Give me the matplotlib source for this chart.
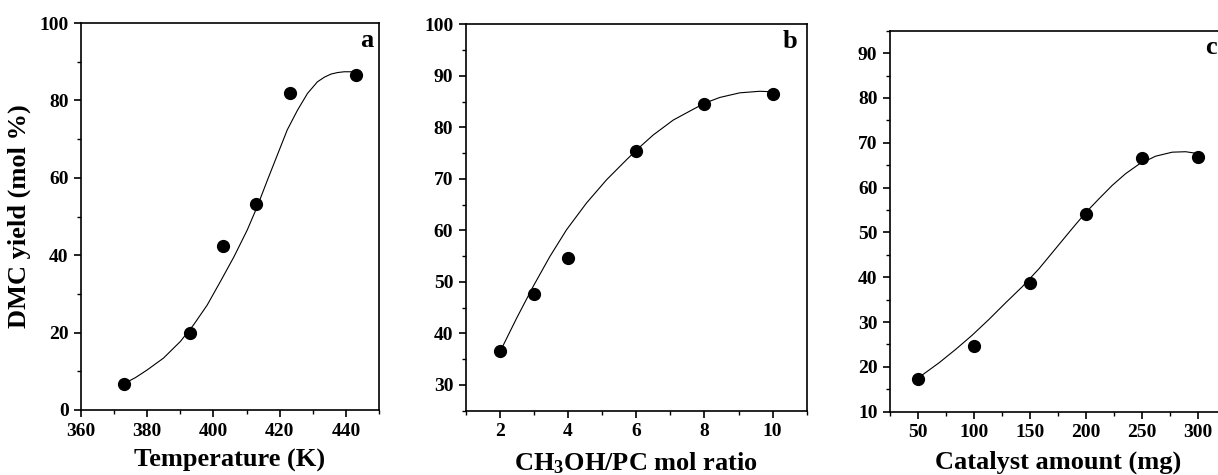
import matplotlib
matplotlib.use('Agg')
import matplotlib.pyplot as plt
import numpy as np
from matplotlib.ticker import MultipleLocator

plt.rcParams['font.family'] = ['Liberation Serif', 'DejaVu Serif']
plt.rcParams['font.weight'] = 'bold'
plt.rcParams['mathtext.fontset'] = 'custom'
plt.rcParams['mathtext.rm'] = 'Liberation Serif:bold'
plt.rcParams['mathtext.default'] = 'rm'

# datos panel a: temperatura
temp_k = [373, 393, 403, 413, 423, 443]
rend_temp = [6.6, 19.8, 42.3, 53.3, 82.0, 86.6]
# curva de ajuste
temp_fit = [373, 376.5, 379.9, 384.9, 390, 394, 398.1, 402.1, 406.2, 410.2, 413.2, 416.3,
            419.3, 422.3, 425.4, 428.4, 431.4, 433.5, 435.5, 437.5, 439.5, 441.5, 443]
rend_temp_fit = [6.8, 8.4, 10.3, 13.4, 17.7, 22.0, 27.1, 33.2, 39.6, 46.5, 52.5, 59.4,
                 65.9, 72.4, 77.5, 81.8, 84.8, 86.0, 86.8, 87.2, 87.4, 87.4, 87.2]

# datos panel b: relacion molar CH3OH/PC
relacion = [2, 3, 4, 6, 8, 10]
rend_rel = [36.5, 47.7, 54.6, 75.5, 84.5, 86.5]
relacion_fit = [2.0, 2.078, 2.489, 2.977, 3.466, 3.955, 4.541, 5.128, 5.715, 6.008,
                6.496, 7.083, 7.670, 8.012, 8.451, 9.038, 9.624, 10.0]
rend_rel_fit = [36.8, 37.4, 42.9, 49.1, 54.9, 60.1, 65.3, 69.8, 73.7, 75.6,
                78.5, 81.4, 83.5, 84.7, 85.8, 86.7, 87.0, 86.9]

# datos panel c: cantidad de catalizador
cat_mg = [50, 100, 150, 200, 250, 300]
rend_cat = [17.4, 24.7, 38.8, 54.1, 66.7, 66.9]
cat_fit = [50, 53.9, 68.8, 83.7, 98.6, 113.5, 128.4, 143.3, 158.2, 173.1, 188.0,
           199.9, 211.8, 223.7, 235.6, 247.5, 262.4, 277.3, 289.3, 300]
rend_cat_fit = [17.6, 18.2, 20.9, 23.9, 27.1, 30.6, 34.3, 37.9, 41.9, 46.4, 50.9,
                54.4, 57.5, 60.5, 63.1, 65.2, 67.0, 67.9, 68.0, 67.6]

W, H = 1218, 475
fig = plt.figure(figsize=(W/100, H/100), dpi=100)

def caja(izq, der, arriba, abajo):
    return [izq/W, (H-abajo)/H, (der-izq)/W, (abajo-arriba)/H]

ax_a = fig.add_axes(caja(81, 379, 23, 410))
ax_b = fig.add_axes(caja(465.7, 806.7, 24.3, 410.7))
ax_c = fig.add_axes(caja(890, 1225.6, 30.7, 411.7))

paneles = [
    (ax_a, temp_k, rend_temp, temp_fit, rend_temp_fit, (360, 450), (0, 100), 20, 10, 20, 10,
     'Temperature (K)', 'a', 0.98, 'right'),
    (ax_b, relacion, rend_rel, relacion_fit, rend_rel_fit, (1, 11), (25, 100), 2, 1, 10, 5,
     'CH$_3$OH/PC mol ratio', 'b', 0.972, 'right'),
    (ax_c, cat_mg, rend_cat, cat_fit, rend_cat_fit, (25, 325), (10, 95), 50, 25, 10, 5,
     'Catalyst amount (mg)', 'c', 0.9386, 'left'),
]

for (ax, x, y, xf, yf, xl, yl, xmaj, xmin, ymaj, ymin, xlabel, letra, lx, lha) in paneles:
    ax.plot(xf, yf, color='black', linewidth=0.8)
    ax.plot(x, y, 'o', color='black', markersize=8.5, linestyle='none')
    ax.set_xlim(xl)
    ax.set_ylim(yl)
    ax.xaxis.set_major_locator(MultipleLocator(xmaj))
    ax.xaxis.set_minor_locator(MultipleLocator(xmin))
    ax.yaxis.set_major_locator(MultipleLocator(ymaj))
    ax.yaxis.set_minor_locator(MultipleLocator(ymin))
    ax.tick_params(which='major', direction='out', length=5, width=1.2, labelsize=14, pad=4)
    ax.tick_params(which='minor', direction='out', length=3, width=1.0)
    for s in ax.spines.values():
        s.set_linewidth(1.2)
    ax.set_xlabel(xlabel, fontsize=19, fontweight='bold', labelpad=7)
    ax.text(lx, 0.985, letra, transform=ax.transAxes, ha=lha, va='top',
            fontsize=19, fontweight='bold')

# ajustes de ticks que no deben quedar fuera del rango visible
ax_a.set_xticks([360, 380, 400, 420, 440])
ax_b.set_xticks([2, 4, 6, 8, 10])
ax_b.set_yticks([30, 40, 50, 60, 70, 80, 90, 100])
ax_c.set_xticks([50, 100, 150, 200, 250, 300])
ax_c.set_yticks([10, 20, 30, 40, 50, 60, 70, 80, 90])

ax_a.set_ylabel('DMC yield (mol %)', fontsize=19, fontweight='bold', labelpad=6)

fig.savefig('out.png', dpi=100)
